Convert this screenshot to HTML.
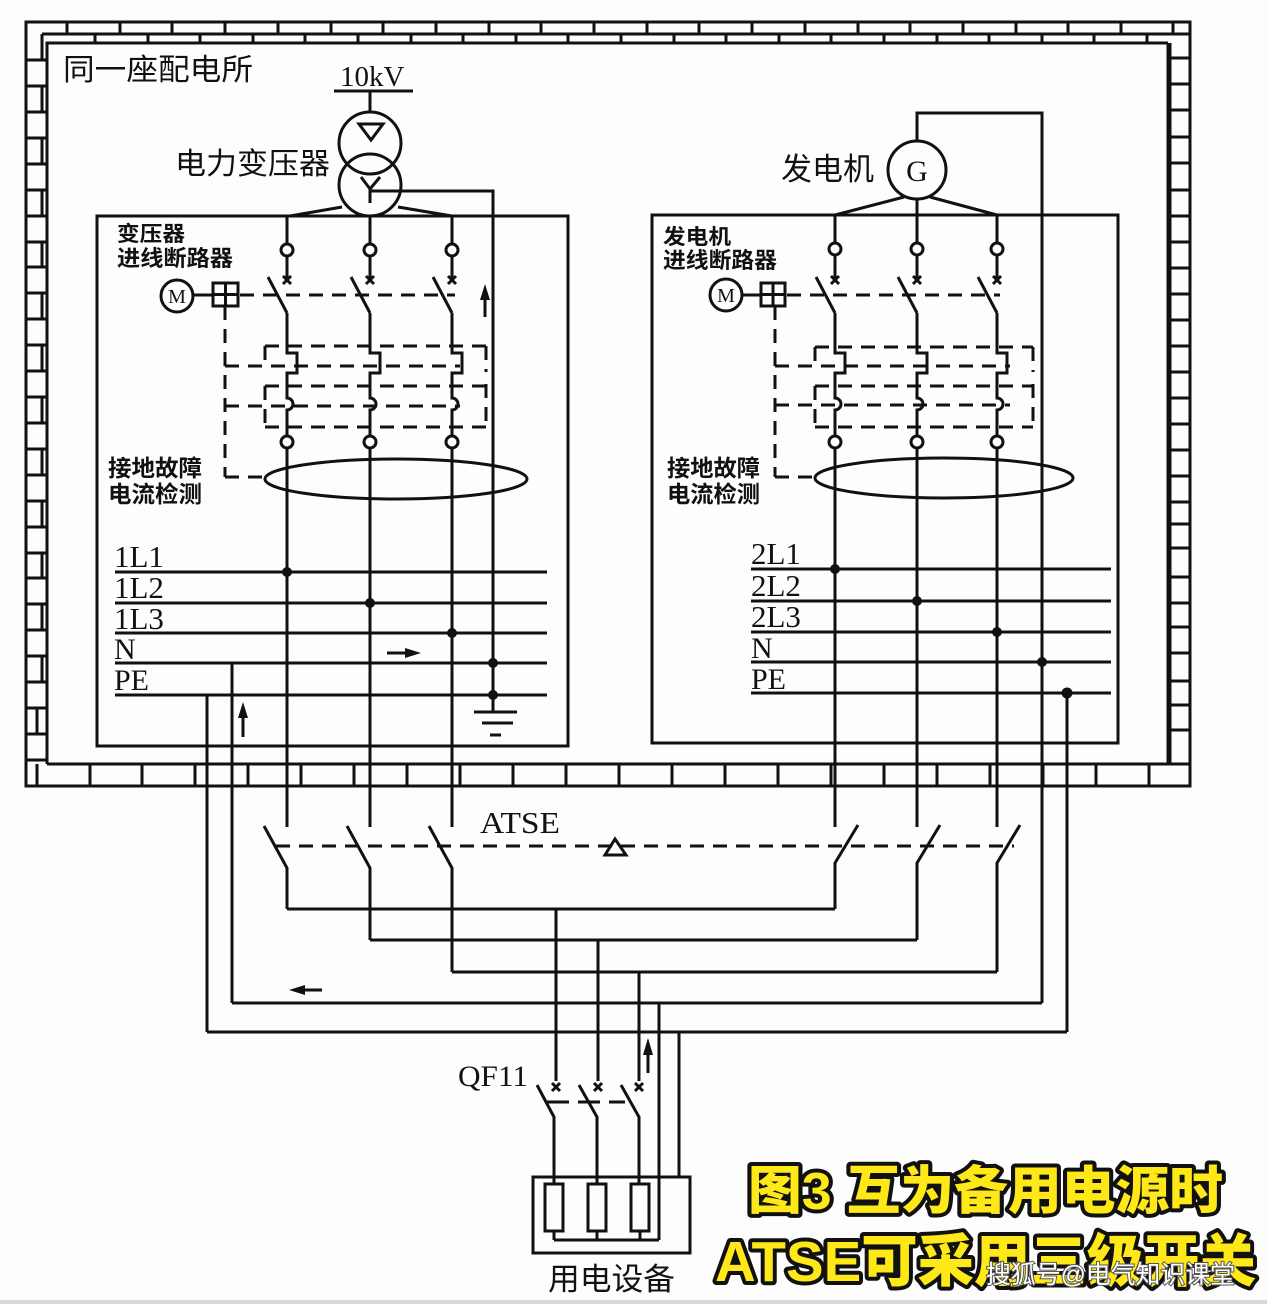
<!DOCTYPE html>
<html><head><meta charset="utf-8"><style>
html,body{margin:0;padding:0;background:#fff;}
svg{display:block;}
</style></head><body>
<svg width="1267" height="1304" viewBox="0 0 1267 1304" xmlns="http://www.w3.org/2000/svg">
<rect width="1267" height="1304" fill="#fdfdfe"/>
<rect x="0" y="1300" width="1267" height="4" fill="#d8d8dc"/>

<!-- WALL -->
<g stroke="#111" stroke-width="3" fill="none">
<rect x="26" y="22" width="1164" height="764"/>
<polyline points="47,764 47,43 1168,43"/>
<line x1="1169" y1="43" x2="1169" y2="764" stroke-width="5"/>
<line x1="47" y1="764" x2="1168" y2="764"/>
<line x1="42" y1="34" x2="1190" y2="34"/>
<line x1="42" y1="34" x2="42" y2="60"/>
<!-- top row separators -->
<path d="M67 22V34M120 22V34M172 22V34M225 22V34M278 22V34M331 22V34M383 22V34M436 22V34M489 22V34M541 22V34M594 22V34M647 22V34M699 22V34M752 22V34M805 22V34M858 22V34M910 22V34M963 22V34M1016 22V34M1068 22V34M1121 22V34M1173 22V34"/>
<path d="M95 34V43M148 34V43M200 34V43M253 34V43M305 34V43M358 34V43M411 34V43M463 34V43M516 34V43M568 34V43M621 34V43M674 34V43M726 34V43M779 34V43M831 34V43M884 34V43M937 34V43M989 34V43M1042 34V43M1094 34V43M1147 34V43"/>
<!-- left column separators -->
<path d="M26 60H47M26 86H47M26 112H47M26 138H47M26 164H47M26 190H47M26 216H47M26 242H47M26 267H47M26 293H47M26 319H47M26 345H47M26 371H47M26 397H47M26 423H47M26 449H47M26 475H47M26 501H47M26 527H47M26 553H47M26 578H47M26 604H47M26 630H47M26 656H47M26 682H47M26 708H47M26 734H47M26 760H47"/>
<path d="M42 86V112M42 138V164M42 190V216M42 242V267M42 293V319M42 345V371M42 397V423M42 449V475M42 501V527M42 553V578M42 604V630M42 656V682M37 708V734"/>
<!-- right column separators -->
<path d="M1168 58H1190M1168 84H1190M1168 110H1190M1168 137H1190M1168 163H1190M1168 190H1190M1168 216H1190M1168 242H1190M1168 268H1190M1168 294H1190M1168 320H1190M1168 346H1190M1168 372H1190M1168 398H1190M1168 424H1190M1168 450H1190M1168 476H1190M1168 502H1190M1168 524H1190M1168 548H1190M1168 577H1190M1168 603H1190M1168 627H1190M1168 653H1190M1168 681H1190M1168 705H1190M1168 730H1190M1168 764H1190"/>
<!-- bottom row separators -->
<path d="M37 764V786M90 764V786M142 764V786M195 764V786M248 764V786M301 764V786M354 764V786M407 764V786M460 764V786M513 764V786M566 764V786M619 764V786M672 764V786M725 764V786M778 764V786M831 764V786M884 764V786M937 764V786M990 764V786M1043 764V786M1096 764V786M1149 764V786"/>
</g>

<g stroke="#111" stroke-width="3" fill="none">
<!-- boxes -->
<rect x="97" y="216" width="471" height="530"/>
<rect x="652" y="215" width="466" height="528"/>

<!-- TRANSFORMER -->
<line x1="334" y1="91" x2="413" y2="91"/>
<line x1="370" y1="91" x2="370" y2="112"/>
<circle cx="370" cy="143" r="31"/>
<circle cx="370" cy="185" r="31"/>
<polygon points="359,124 383,124 371,140"/>
<path d="M361 177 L370 189 L380 177 M370 189 V203"/>
<polyline points="370,191 493,191 493,695"/>
<path d="M342 207 L290 216 M398 207 L452 216 M370 216 V216"/>

<!-- GENERATOR -->
<circle cx="917" cy="170" r="29"/>
<polyline points="917,141 917,113 1042,113 1042,1003"/>
<path d="M904 197 L835 215 M930 197 L997 215 M917 199 V215"/>

<!-- LEFT PHASES -->
<path d="M287 216V244M287 256V281M283 276L291 284M291 276L283 284M268 277L287 313M287 313V353H297V373H287V398A6 6 0 0 1 287 410V436M287 448V827M264 826L287 868V909"/>
<path d="M370 216V244M370 256V281M366 276L374 284M374 276L366 284M351 277L370 313M370 313V353H380V373H370V398A6 6 0 0 1 370 410V436M370 448V827M347 826L370 868V940"/>
<path d="M452 216V244M452 256V281M448 276L456 284M456 276L448 284M433 277L452 313M452 313V353H462V373H452V398A6 6 0 0 1 452 410V436M452 448V827M429 826L452 868V972"/>
<!-- RIGHT PHASES -->
<path d="M835 215V243M835 255V281M831 276L839 284M839 276L831 284M816 277L835 313M835 313V353H845V373H835V398A6 6 0 0 1 835 410V436M835 448V827M858 825L835 863V909"/>
<path d="M917 215V243M917 255V281M913 276L921 284M921 276L913 284M898 277L917 313M917 313V353H927V373H917V398A6 6 0 0 1 917 410V436M917 448V827M940 825L917 863V940"/>
<path d="M997 215V243M997 255V281M993 276L1001 284M1001 276L993 284M978 277L997 313M997 313V353H1007V373H997V398A6 6 0 0 1 997 410V436M997 448V827M1020 825L997 863V972"/>
</g>
<g stroke="#111" stroke-width="3" fill="#fff">
<circle cx="287" cy="250" r="6"/><circle cx="370" cy="250" r="6"/><circle cx="452" cy="250" r="6"/>
<circle cx="287" cy="442" r="6"/><circle cx="370" cy="442" r="6"/><circle cx="452" cy="442" r="6"/>
<circle cx="835" cy="249" r="6"/><circle cx="917" cy="249" r="6"/><circle cx="997" cy="249" r="6"/>
<circle cx="835" cy="442" r="6"/><circle cx="917" cy="442" r="6"/><circle cx="997" cy="442" r="6"/>
<!-- motors -->
<circle cx="177" cy="296" r="16"/>
<circle cx="726" cy="295" r="16"/>
</g>

<g stroke="#111" stroke-width="3" fill="none">
<!-- motor links and boxes -->
<line x1="193" y1="295" x2="213" y2="295"/>
<rect x="213" y="283" width="25" height="23"/>
<path d="M225.5 283V306M213 294.5H238"/>
<line x1="742" y1="295" x2="761" y2="295"/>
<rect x="761" y="283" width="24" height="23"/>
<path d="M773 283V306M761 294.5H785"/>

<!-- ellipses -->
<ellipse cx="396" cy="479" rx="131" ry="20"/>
<ellipse cx="944" cy="478" rx="129" ry="20"/>
</g>

<!-- dashed -->
<g stroke="#111" stroke-width="3" fill="none" stroke-dasharray="14 9">
<line x1="240" y1="295" x2="455" y2="295"/>
<line x1="225" y1="306" x2="225" y2="477"/>
<line x1="225" y1="477" x2="265" y2="477"/>
<line x1="265" y1="346" x2="486" y2="346"/>
<line x1="225" y1="366" x2="460" y2="366"/>
<line x1="265" y1="386" x2="486" y2="386"/>
<line x1="225" y1="406" x2="460" y2="406"/>
<line x1="265" y1="427" x2="486" y2="427"/>
<line x1="265" y1="346" x2="265" y2="366"/>
<line x1="265" y1="386" x2="265" y2="427"/>
<line x1="486" y1="346" x2="486" y2="372"/>
<line x1="486" y1="384" x2="486" y2="427"/>

<line x1="787" y1="295" x2="1000" y2="295"/>
<line x1="775" y1="306" x2="775" y2="477"/>
<line x1="775" y1="477" x2="815" y2="477"/>
<line x1="815" y1="347" x2="1033" y2="347"/>
<line x1="775" y1="366" x2="1010" y2="366"/>
<line x1="815" y1="386" x2="1033" y2="386"/>
<line x1="775" y1="405" x2="1010" y2="405"/>
<line x1="815" y1="427" x2="1033" y2="427"/>
<line x1="815" y1="347" x2="815" y2="366"/>
<line x1="815" y1="386" x2="815" y2="427"/>
<line x1="1033" y1="347" x2="1033" y2="372"/>
<line x1="1033" y1="384" x2="1033" y2="427"/>

<line x1="276" y1="846" x2="1014" y2="846"/>
<line x1="547" y1="1102" x2="625" y2="1102" stroke-dasharray="22 9"/>
</g>

<!-- BUSES -->
<g stroke="#111" stroke-width="3" fill="none">
<path d="M115 572H547M115 603H547M115 633H547M115 663H547M115 695H547"/>
<path d="M751 569H1111M751 601H1111M751 632H1111M751 662H1111M751 693H1111"/>
<path d="M232 663V1003M207 695V1032M1067 693V1032"/>
<path d="M493 695V712M474 712H517M482 723H513M490 735H501"/>
<!-- ATSE bus -->
<path d="M287 909H835M370 940H917M452 972H997M232 1003H1042M207 1032H1067"/>
<path d="M556 909V1081M598 940V1081M639 972V1081M659 1003V1240M679 1032V1177"/>
<polygon points="615,839 605,855 626,855"/>
<!-- QF11 -->
<path d="M552 1083L560 1091M560 1083L552 1091M594 1083L602 1091M602 1083L594 1091M635 1083L643 1091M643 1083L635 1091"/>
<path d="M537 1085L554 1117V1184M579 1085L597 1117V1184M621 1085L639 1117V1184"/>
<rect x="533" y="1177" width="157" height="76"/>
<rect x="545" y="1184" width="18" height="47"/>
<rect x="588" y="1184" width="18" height="47"/>
<rect x="631" y="1184" width="18" height="47"/>
<path d="M554 1231V1240M597 1231V1240M640 1231V1240M554 1240H659"/>
</g>

<!-- dots -->
<g fill="#111">
<circle cx="287" cy="572" r="5"/><circle cx="370" cy="603" r="5"/><circle cx="452" cy="633" r="5"/>
<circle cx="493" cy="663" r="5"/><circle cx="493" cy="695" r="5"/>
<circle cx="835" cy="569" r="5"/><circle cx="917" cy="601" r="5"/><circle cx="997" cy="632" r="5"/>
<circle cx="1042" cy="662" r="5"/><circle cx="1067" cy="693" r="5.5"/>
<!-- arrows -->
<path d="M485 317V296" stroke="#111" stroke-width="3"/><polygon points="485,284 480,300 490,300"/>
<path d="M243 737V714" stroke="#111" stroke-width="3"/><polygon points="243,702 238,718 248,718"/>
<path d="M387 653H408" stroke="#111" stroke-width="3"/><polygon points="421,653 405,648 405,658"/>
<path d="M322 990H302" stroke="#111" stroke-width="3"/><polygon points="289,990 305,985 305,995"/>
<path d="M648 1073V1052" stroke="#111" stroke-width="3"/><polygon points="648,1038 643,1055 653,1055"/>
</g>

<!-- TEXT -->
<g font-family="'Liberation Serif', serif" fill="#111">
<text x="340" y="86" font-size="29">10kV</text>
<text x="917" y="181" font-size="30" text-anchor="middle">G</text>
<text x="177" y="303" font-size="20" text-anchor="middle">M</text>
<text x="726" y="302" font-size="20" text-anchor="middle">M</text>
<text x="114" y="567" font-size="31">1L1</text>
<text x="114" y="598" font-size="31">1L2</text>
<text x="114" y="629" font-size="31">1L3</text>
<text x="114" y="659" font-size="30">N</text>
<text x="114" y="690" font-size="30">PE</text>
<text x="751" y="564" font-size="31">2L1</text>
<text x="751" y="596" font-size="31">2L2</text>
<text x="751" y="627" font-size="31">2L3</text>
<text x="751" y="658" font-size="30">N</text>
<text x="751" y="689" font-size="30">PE</text>
<text x="480" y="833" font-size="31" textLength="80" lengthAdjust="spacingAndGlyphs">ATSE</text>
<text x="458" y="1086" font-size="30" textLength="70" lengthAdjust="spacingAndGlyphs">QF11</text>
</g>
<g font-family="'Liberation Sans', 'Noto Sans CJK SC', sans-serif" fill="#111">
<text x="63" y="80" font-size="30" textLength="190" lengthAdjust="spacingAndGlyphs">同一座配电所</text>
<text x="175" y="174" font-size="30" textLength="155" lengthAdjust="spacingAndGlyphs">电力变压器</text>
<text x="781" y="180" font-size="31" textLength="93" lengthAdjust="spacingAndGlyphs">发电机</text>
<text x="548" y="1290" font-size="31" textLength="127" lengthAdjust="spacingAndGlyphs">用电设备</text>
</g>
<g font-family="'Liberation Sans', 'Noto Sans CJK SC', sans-serif" font-weight="bold" fill="#111">
<text x="117" y="241" font-size="21" textLength="68" lengthAdjust="spacingAndGlyphs">变压器</text>
<text x="117" y="266" font-size="22" textLength="116" lengthAdjust="spacingAndGlyphs">进线断路器</text>
<text x="108" y="476" font-size="23" textLength="94" lengthAdjust="spacingAndGlyphs">接地故障</text>
<text x="108" y="502" font-size="23" textLength="94" lengthAdjust="spacingAndGlyphs">电流检测</text>
<text x="663" y="244" font-size="21" textLength="68" lengthAdjust="spacingAndGlyphs">发电机</text>
<text x="663" y="268" font-size="22" textLength="114" lengthAdjust="spacingAndGlyphs">进线断路器</text>
<text x="667" y="476" font-size="23" textLength="93" lengthAdjust="spacingAndGlyphs">接地故障</text>
<text x="667" y="502" font-size="23" textLength="93" lengthAdjust="spacingAndGlyphs">电流检测</text>
</g>

<!-- CAPTION -->
<g font-family="'Liberation Sans', 'Noto Sans CJK SC', sans-serif" font-weight="900" fill="#FFE817" stroke="#111" stroke-width="8" stroke-linejoin="round" paint-order="stroke">
<text x="748" y="1209" font-size="52" textLength="475" lengthAdjust="spacingAndGlyphs">图3 互为备用电源时</text>
<text x="715" y="1281" font-size="57" textLength="541" lengthAdjust="spacingAndGlyphs">ATSE可采用三级开关</text>
</g>
<text x="986" y="1283" font-family="'Liberation Sans', 'Noto Sans CJK SC', sans-serif" font-size="25" fill="#fff" stroke="#555" stroke-width="2" paint-order="stroke" textLength="249" lengthAdjust="spacingAndGlyphs">搜狐号@电气知识课堂</text>
</svg>
</body></html>
